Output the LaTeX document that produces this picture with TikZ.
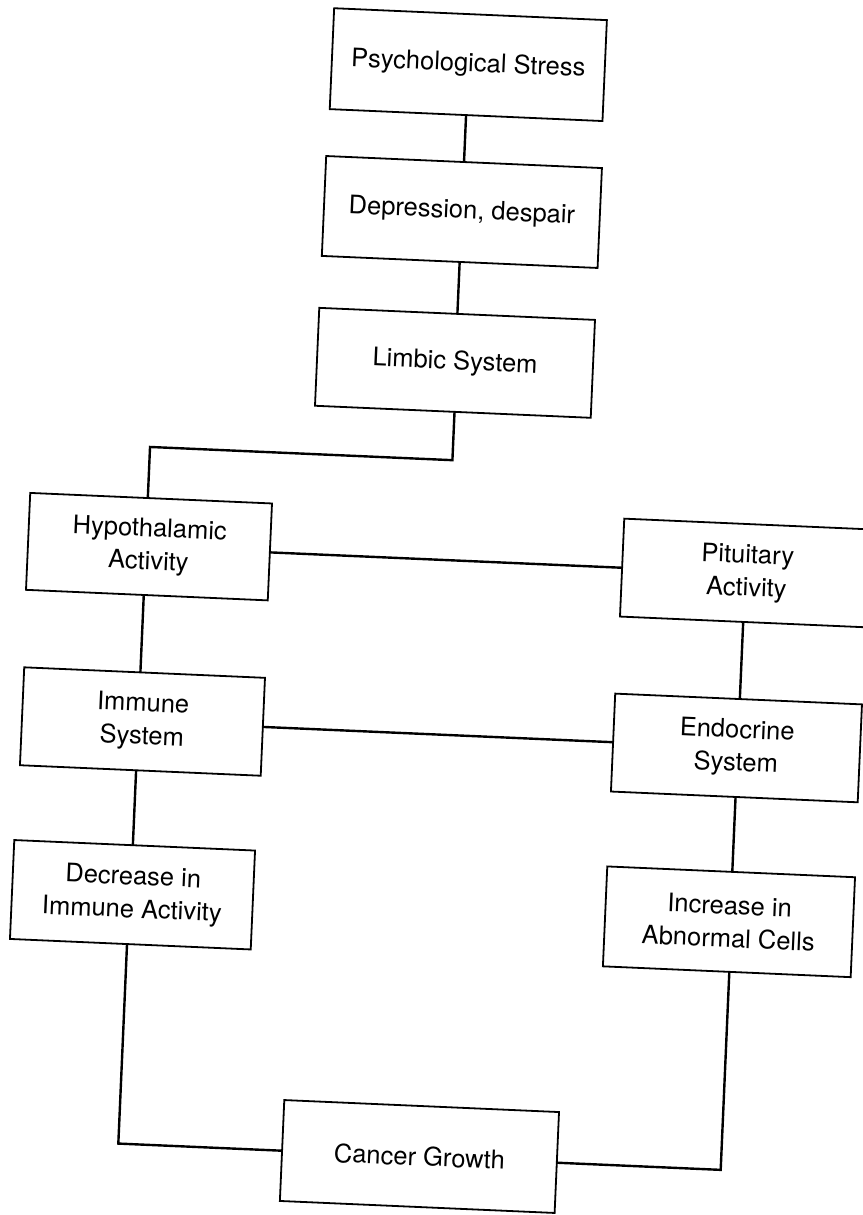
\documentclass[tikz,border=0pt]{standalone}
\usepackage{fontspec}
\setmainfont{TeX Gyre Heros}
\begin{document}
\begin{tikzpicture}[x=1pt,y=-1pt,
  box/.style={draw, line width=1.8pt, inner sep=0pt, align=center,
    font=\fontsize{25.5}{33}\selectfont},
  link/.style={line width=2.4pt, line cap=rect}]
\useasboundingbox (0,0) rectangle (862,1215);
\fill[white] (0,0) rectangle (862,1215);
\begin{scope}[rotate around={-2.5:(431,607.5)}, transform shape]
\node[box, minimum width=273pt, minimum height=101pt] (psy) at (444.6,63.5) {Psychological Stress};
\node[box, minimum width=276pt, minimum height=100pt] (dep) at (444.6,211) {Depression, despair};
\node[box, minimum width=276pt, minimum height=98pt] (lim) at (444.3,362) {Limbic System};
\node[box, minimum width=242pt, minimum height=97pt] (hyp) at (146.6,559) {Hypothalamic\\Activity};
\node[box, minimum width=250pt, minimum height=98pt] (pit) at (745.2,559.3) {Pituitary\\Activity};
\node[box, minimum width=241pt, minimum height=98pt] (imm) at (147.7,734) {Immune\\System};
\node[box, minimum width=247pt, minimum height=98pt] (end) at (742.3,734.5) {Endocrine\\System};
\node[box, minimum width=241pt, minimum height=99pt] (dec) at (145.3,907.5) {Decrease in\\Immune Activity};
\node[box, minimum width=248pt, minimum height=100pt] (inc) at (742.4,908.5) {Increase in\\Abnormal Cells};
\node[box, minimum width=275pt, minimum height=101pt] (can) at (443.4,1156.5) {Cancer Growth};
\coordinate (xc) at (444.6,0);
\coordinate (x3) at (446,0);
\coordinate (k1) at (143.3,459.4);
\coordinate (y45) at (0,559.5);
\coordinate (xl) at (143.5,0);
\coordinate (xr) at (743.6,0);
\coordinate (y67) at (0,734.2);
\coordinate (k2) at (142,1156.8);
\coordinate (k3) at (745,1156.8);
\draw[link] (psy.south -| xc) -- (dep.north -| xc);
\draw[link] (dep.south -| xc) -- (lim.north -| xc);
\draw[link] (lim.south -| x3) |- (k1) -- (hyp.north -| k1);
\draw[link] (hyp.east |- y45) -- (pit.west |- y45);
\draw[link] (hyp.south -| xl) -- (imm.north -| xl);
\draw[link] (pit.south -| xr) -- (end.north -| xr);
\draw[link] (imm.east |- y67) -- (end.west |- y67);
\draw[link] (imm.south -| xl) -- (dec.north -| xl);
\draw[link] (end.south -| xr) -- (inc.north -| xr);
\draw[link] (dec.south -| k2) -- (k2) -- (can.west |- k2);
\draw[link] (inc.south -| k3) -- (k3) -- (can.east |- k3);
\end{scope}
\end{tikzpicture}
\end{document}
